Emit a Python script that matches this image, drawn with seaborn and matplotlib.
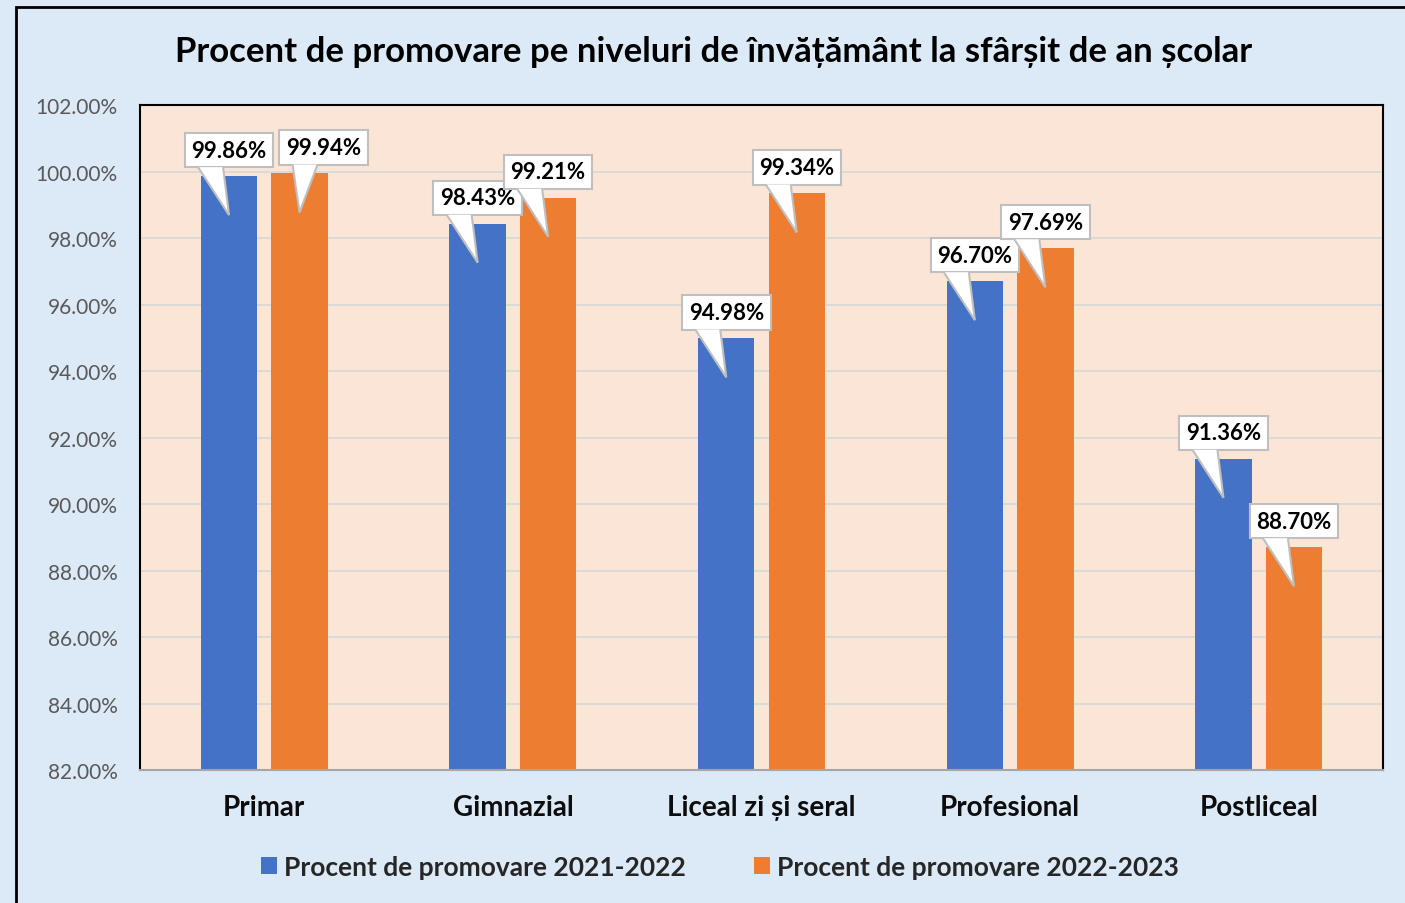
import numpy as np
import pandas as pd
import matplotlib.pyplot as plt
import seaborn as sns
from matplotlib.patches import Polygon, Rectangle

# date: procent de promovare pe niveluri
levels = ['Primar', 'Gimnazial', 'Liceal zi și seral', 'Profesional', 'Postliceal']
prom_2021_2022 = [99.86, 98.43, 94.98, 96.70, 91.36]
prom_2022_2023 = [99.94, 99.21, 99.34, 97.69, 88.70]
series = ['Procent de promovare 2021-2022', 'Procent de promovare 2022-2023']
y_ticks = [82, 84, 86, 88, 90, 92, 94, 96, 98, 100, 102]

df = pd.DataFrame({
    'Nivel': levels * 2,
    'Procent': prom_2021_2022 + prom_2022_2023,
    'Serie': [series[0]] * len(levels) + [series[1]] * len(levels),
})

sns.set_theme(style='white')
plt.rcParams['font.family'] = ['Lato', 'DejaVu Sans']

W, H = 1405, 904
fig = plt.figure(figsize=(W / 100, H / 100), dpi=100, facecolor='#dce9f6')
ax = fig.add_axes([140 / W, 1 - 771 / H, 1243 / W, 665 / H])
ax.set_facecolor('#fbe5d6')

sns.barplot(data=df, x='Nivel', y='Procent', hue='Serie',
            palette=['#4472c4', '#ed7d31'], saturation=1,
            width=0.567, gap=0.2, ax=ax, zorder=2,
            linewidth=0, edgecolor='none')

ax.set_ylim(82, 102)
ax.set_xlim(-0.5, len(levels) - 0.5)
ax.set_yticks(y_ticks)
ax.set_yticklabels([f'{v:.2f}%' for v in y_ticks])
ax.yaxis.grid(True, color='#d9d9d9', lw=1.3, zorder=0)
ax.set_axisbelow(True)
ax.set_xlabel('')
ax.set_ylabel('')
ax.tick_params(axis='y', length=0, pad=16, labelsize=15, labelcolor='#595959')
ax.tick_params(axis='x', length=0, pad=17, labelsize=20)
for lbl in ax.get_xticklabels():
    lbl.set_fontweight('bold')
    lbl.set_color('#0d0d0d')

for side in ['left', 'top', 'right']:
    ax.spines[side].set_color('black')
    ax.spines[side].set_linewidth(1.5)
ax.spines['bottom'].set_color('#a6a6a6')
ax.spines['bottom'].set_linewidth(1.5)

# etichete tip "callout" (eticheta 99.94% e mutata la dreapta, ca in Excel)
box_shift = {(1, 0): 24}
inv = ax.transData.inverted()
for ci, cont in enumerate(ax.containers):
    for bi, bar in enumerate(cont):
        x = bar.get_x() + bar.get_width() / 2
        h = bar.get_height()
        px, py = ax.transData.transform((x, h))
        dx = box_shift.get((ci, bi), 0)
        ax.annotate(f'{h:.2f}%', xy=(x, h), xytext=(dx * 0.72, 26 * 0.72),
                    textcoords='offset points', ha='center', va='center',
                    fontsize=16, fontweight='bold', color='black',
                    bbox=dict(boxstyle='square,pad=0.3', fc='white',
                              ec='#bfbfbf', lw=1.5),
                    zorder=5, annotation_clip=False)
        pts = inv.transform([(px + dx - 31, py + 9), (px, py - 39),
                             (px + dx - 6, py + 9)])
        ax.add_patch(Polygon(pts, closed=True, fc='white', ec='none',
                             zorder=6, clip_on=False))
        ax.plot(pts[:2, 0], pts[:2, 1], color='#bfbfbf', lw=1.5,
                zorder=6, clip_on=False, solid_capstyle='butt')
        ax.plot(pts[1:, 0], pts[1:, 1], color='#bfbfbf', lw=1.5,
                zorder=6, clip_on=False, solid_capstyle='butt')

# legenda
handles, labels = ax.get_legend_handles_labels()
ax.get_legend().remove()
fig.legend(handles, labels, loc='center', bbox_to_anchor=(720 / W, 1 - 868 / H),
           ncol=2, frameon=False, handlelength=0.6, handleheight=0.6,
           handletextpad=0.27, columnspacing=2.6,
           prop={'size': 19, 'weight': 'bold'})

fig.text(714 / W, 1 - 52 / H,
         'Procent de promovare pe niveluri de învățământ la sfârșit de an școlar',
         ha='center', va='center', fontsize=25, fontweight='bold', color='black')

fig.patches.append(Rectangle((16 / W, -0.05), 1.1, 1 - 8 / H + 0.05,
                             transform=fig.transFigure, fill=False,
                             ec='black', lw=2))

fig.savefig('out.png', dpi=100, facecolor=fig.get_facecolor())
